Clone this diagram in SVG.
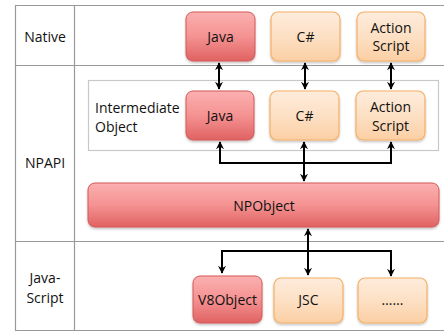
<svg xmlns="http://www.w3.org/2000/svg" width="444" height="333" viewBox="0 0 444 333">
<defs>
<linearGradient id="gr" x1="0" y1="0" x2="0" y2="1">
<stop offset="0" stop-color="#fbb0b0"/>
<stop offset="0.5" stop-color="#f59292"/>
<stop offset="1" stop-color="#e06262"/>
</linearGradient>
<linearGradient id="go" x1="0" y1="0" x2="0" y2="1">
<stop offset="0" stop-color="#feecdc"/>
<stop offset="0.5" stop-color="#fde0c4"/>
<stop offset="1" stop-color="#fbcfa4"/>
</linearGradient>
<filter id="sh" x="-10%" y="-10%" width="120%" height="130%">
<feDropShadow dx="0" dy="1.5" stdDeviation="1" flood-color="#000" flood-opacity="0.25"/>
</filter>
<marker id="ah" viewBox="0 0 10 10" refX="9" refY="5" markerWidth="4" markerHeight="4" orient="auto-start-reverse" markerUnits="strokeWidth">
<path d="M0,0 L10,5 L0,10 L3,5 Z" fill="#000"/>
</marker>
<style>
.grid{stroke:#999;stroke-width:1.2;fill:none}
.red{fill:url(#gr);stroke:#d45858;stroke-width:1;filter:url(#sh)}
.org{fill:url(#go);stroke:#f5b066;stroke-width:1.2;filter:url(#sh)}
.t{font-family:"Open Sans","Liberation Sans",sans-serif;font-size:14px;fill:#111;text-anchor:middle}
.tl{font-family:"Open Sans","Liberation Sans",sans-serif;font-size:14px;fill:#111}
.c{stroke:#000;stroke-width:2;fill:none}
</style>
</defs>
<rect width="444" height="333" fill="#fff"/>
<g id="table">
<line class="grid" x1="15" y1="5.5" x2="444" y2="5.5"/>
<line class="grid" x1="15" y1="65.5" x2="444" y2="65.5"/>
<line class="grid" x1="15" y1="241.5" x2="444" y2="241.5"/>
<line class="grid" x1="15" y1="330.5" x2="444" y2="330.5"/>
<line class="grid" x1="15.5" y1="5" x2="15.5" y2="331"/>
<line class="grid" x1="74.5" y1="5" x2="74.5" y2="331"/>
<text class="t" x="45" y="42">Native</text>
<text class="t" x="45" y="168">NPAPI</text>
<text class="t" x="45" y="283">Java-</text>
<text class="t" x="45" y="303">Script</text>
</g>
<g id="intermediate">
<rect x="88.5" y="80.5" width="350" height="70" fill="#fff" stroke="#c8c8c8" stroke-width="1.2"/>
<text class="tl" x="95" y="113">Intermediate</text>
<text class="tl" x="95" y="132">Object</text>
</g>
<g id="connectors">
<line class="c" x1="219" y1="63" x2="219" y2="89" marker-start="url(#ah)" marker-end="url(#ah)"/>
<line class="c" x1="305" y1="63" x2="305" y2="89" marker-start="url(#ah)" marker-end="url(#ah)"/>
<line class="c" x1="391" y1="63" x2="391" y2="89" marker-start="url(#ah)" marker-end="url(#ah)"/>
<path class="c" d="M220,142 V163 H391 V142" marker-start="url(#ah)" marker-end="url(#ah)"/>
<line class="c" x1="304" y1="142" x2="304" y2="181" marker-start="url(#ah)" marker-end="url(#ah)"/>
<line class="c" x1="308" y1="229" x2="308" y2="275" marker-start="url(#ah)" marker-end="url(#ah)"/>
<path class="c" d="M222,273 V251 H391 V276" marker-start="url(#ah)" marker-end="url(#ah)"/>
</g>
<g id="java-native"><rect class="red" x="186" y="12" width="69" height="49" rx="7"/><text class="t" x="220.5" y="42">Java</text></g>
<g id="csharp-native"><rect class="org" x="271" y="12" width="69" height="49" rx="7"/><text class="t" x="305.5" y="42">C#</text></g>
<g id="as-native"><rect class="org" x="357" y="12" width="68" height="49" rx="7"/><text class="t" x="391" y="33">Action</text><text class="t" x="391" y="51">Script</text></g>
<g id="java-inter"><rect class="red" x="186" y="91" width="68" height="49" rx="7"/><text class="t" x="220" y="121">Java</text></g>
<g id="csharp-inter"><rect class="org" x="270" y="91" width="69" height="49" rx="7"/><text class="t" x="304.5" y="121">C#</text></g>
<g id="as-inter"><rect class="org" x="356" y="91" width="69" height="49" rx="7"/><text class="t" x="390.5" y="112">Action</text><text class="t" x="390.5" y="131">Script</text></g>
<g id="npobject"><rect class="red" x="88" y="183" width="351" height="44" rx="7"/><text class="t" x="264" y="211">NPObject</text></g>
<g id="v8object"><rect class="red" x="193" y="276" width="69" height="47" rx="7"/><text class="t" x="227.5" y="305">V8Object</text></g>
<g id="jsc"><rect class="org" x="274" y="278" width="69" height="45" rx="7"/><text class="t" x="308.5" y="305">JSC</text></g>
<g id="more"><rect class="org" x="358" y="278" width="69" height="45" rx="7"/><text class="t" x="392.5" y="305">……</text></g>
</svg>
